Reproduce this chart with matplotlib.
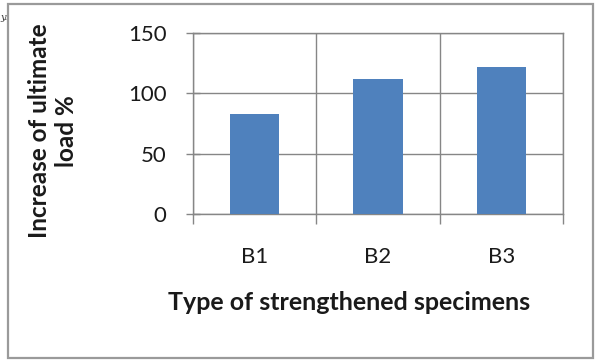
import matplotlib
matplotlib.use("Agg")
import matplotlib.pyplot as plt
from matplotlib.patches import Rectangle

categories = ["B1", "B2", "B3"]
increase = [82.5, 112, 121.5]
yticks = [0, 50, 100, 150]

W, H = 596, 360
FONT = "Lato"
fig = plt.figure(figsize=(W / 100, H / 100), dpi=100)
fig.patch.set_facecolor("white")

# outer chart-area frame
fig.patches.append(Rectangle((8 / W, 1 - 358 / H), (593 - 8) / W, (358 - 3.5) / H,
                             transform=fig.transFigure, fill=False,
                             edgecolor="#9a9a9a", linewidth=1.6))

ax = fig.add_axes([193 / W, 1 - 214 / H, (563 - 193) / W, (214 - 33) / H])
x = list(range(len(categories)))
ax.bar(x, increase, width=0.4, color="#4F81BD", zorder=3)

ax.set_xlim(-0.5, len(categories) - 0.5)
ax.set_ylim(0, 150)
ax.set_yticks(yticks)
ax.set_yticklabels([str(v) for v in yticks])

# category boundaries as vertical gridlines and ticks
bounds = [i - 0.5 for i in range(len(categories) + 1)]
ax.set_xticks(bounds)
ax.set_xticklabels([])
ax.set_xticks(x, minor=True)
ax.set_xticklabels(categories, minor=True)
ax.tick_params(axis="x", which="minor", length=0, pad=24, labelsize=16)
ax.tick_params(axis="x", which="major", direction="out", length=7, color="#868686", width=1)
ax.tick_params(axis="y", direction="inout", length=10, color="#868686", width=1, pad=14, labelsize=16)
for lbl in ax.get_xticklabels(minor=True) + ax.get_yticklabels():
    lbl.set_fontfamily(FONT)
    lbl.set_color("#1a1a1a")

ax.grid(True, which="major", color="#868686", linewidth=1, zorder=0)
for side in ["top", "right", "left", "bottom"]:
    ax.spines[side].set_color("#868686")
    ax.spines[side].set_linewidth(1)

fig.text(53 / W, 1 - 131 / H, "Increase of ultimate\nload %", rotation=90,
         ha="center", va="center", fontsize=17.5, fontweight="bold",
         family=FONT, linespacing=1.2, color="#1a1a1a")
fig.text(349 / W, 1 - 303 / H, "Type of strengthened specimens",
         ha="center", va="center", fontsize=18, fontweight="bold",
         family=FONT, color="#1a1a1a")
fig.text(0, 1 - 18 / H, "y.", fontsize=7, style="italic", family="DejaVu Serif",
         ha="left", va="center", color="#333333")

fig.savefig("out.png", dpi=100, facecolor="white")
